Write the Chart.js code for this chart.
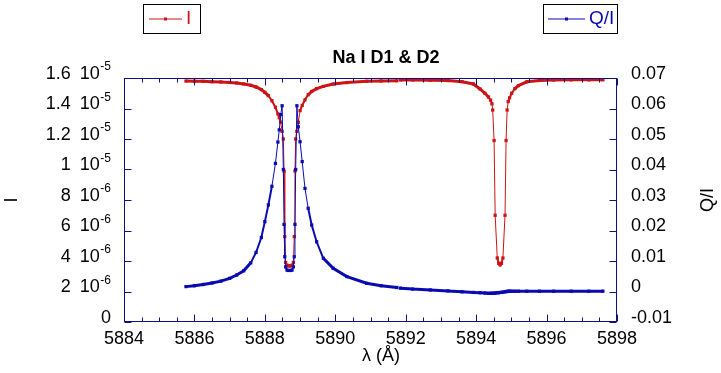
<!DOCTYPE html>
<html><head><meta charset="utf-8">
<script src="https://cdn.jsdelivr.net/npm/chart.js@4.4.1/dist/chart.umd.min.js"></script>
<style>html,body{margin:0;padding:0;background:#fff}canvas{display:block}</style>
</head><body>
<canvas id="c" width="721" height="373"></canvas>
<script>
// ---- data ----
const wavelengths = [
 5885.76,5886.0,5886.25,5886.5,5886.75,5887.0,5887.2,5887.4,5887.6,5887.75,5887.9,5888.0,5888.1,5888.2,5888.3,5888.37,5888.41,
 5888.45,5888.49,5888.525,5888.545,5888.565,5888.59,5888.63,5888.67,5888.73,5888.77,5888.81,5888.835,5888.855,5888.875,5888.91,5888.95,
 5889.0,5889.06,5889.14,5889.23,5889.33,5889.47,5889.66,5889.94,5890.33,5890.89,5891.3,5891.75,
 5891.8,
 5891.85,5892.2,5892.7,5893.2,5893.6,5893.92,5894.11,5894.25,5894.35,5894.41,5894.45,5894.47,5894.51,5894.54,5894.6,5894.64,5894.68,
 5894.72,5894.76,5894.82,5894.85,5894.88,5894.91,5894.95,5895.01,5895.1,5895.2,5895.44,5895.8,5896.2,5896.7,5897.2,5897.6
];
const intensityI = [
 1.580e-5,1.579e-5,1.578e-5,1.576e-5,1.574e-5,1.571e-5,1.567e-5,1.561e-5,1.552e-5,1.541e-5,1.524e-5,1.506e-5,1.484e-5,1.451e-5,1.408e-5,1.365e-5,1.34e-5,
 1.31e-5,1.25e-5,1.20e-5,9.9e-6,5.6e-6,3.9e-6,3.72e-6,3.68e-6,3.68e-6,3.72e-6,3.9e-6,5.6e-6,9.9e-6,1.20e-5,1.25e-5,1.31e-5,
 1.386e-5,1.42e-5,1.457e-5,1.49e-5,1.512e-5,1.530e-5,1.545e-5,1.560e-5,1.570e-5,1.578e-5,1.581e-5,1.582e-5,
 null,
 1.587e-5,1.587e-5,1.586e-5,1.583e-5,1.576e-5,1.561e-5,1.528e-5,1.50e-5,1.475e-5,1.455e-5,1.43e-5,1.39e-5,1.19e-5,7.0e-6,4.2e-6,3.85e-6,3.75e-6,
 3.85e-6,4.2e-6,7.0e-6,1.19e-5,1.39e-5,1.445e-5,1.47e-5,1.50e-5,1.53e-5,1.55e-5,1.575e-5,1.584e-5,1.587e-5,1.588e-5,1.588e-5,1.588e-5
];
const polarizationQI = [
 0.0016,0.0019,0.0023,0.0028,0.0034,0.0043,0.0054,0.0068,0.0094,0.0128,0.0177,0.0229,0.0284,0.0345,0.0420,0.0490,0.0530,
 0.058,0.0609,0.040,0.022,0.0114,0.0081,0.0070,0.0069,0.0069,0.0070,0.0081,0.0114,0.022,0.040,0.0609,0.054,
 0.0491,0.0426,0.0338,0.0273,0.0218,0.0163,0.0109,0.0076,0.0049,0.0027,0.0019,0.0013,
 null,
 0.0011,0.0008,0.0005,0.0002,-0.0001,-0.0003,-0.0004,-0.0005,-0.0006,-0.0006,-0.0006,-0.0006,-0.0006,-0.0005,-0.0004,-0.0004,-0.0003,
 -0.0003,-0.0002,-0.0001,0.0,0.0,0.0001,0.0001,0.0001,0.0001,0.0001,0.0001,0.0001,0.0001,0.0001,0.0001,0.0001
];
const xTickValues = [5884,5886,5888,5890,5892,5894,5896,5898];
const leftTickValues = [0,2e-6,4e-6,6e-6,8e-6,1e-5,1.2e-5,1.4e-5,1.6e-5];
const leftTickMantissa = ['0','2','4','6','8','1','1.2','1.4','1.6'];
const leftTickExponent = ['','-6','-6','-6','-6','-5','-5','-5','-5'];
const rightTickValues = [-0.01,0,0.01,0.02,0.03,0.04,0.05,0.06,0.07];
const rightTickLabels = ['-0.01','0','0.01','0.02','0.03','0.04','0.05','0.06','0.07'];
const chartTitle = 'Na I D1 & D2';
const xTitle = 'λ (Å)';
const leftTitle = 'I';
const rightTitle = 'Q/I';
const seriesNames = ['I','Q/I'];

// ---- styles ----
const RED = '#cc1414', BLUE = '#0a0ab0', FRAME = '#10107a';
const FONT = '"Liberation Sans", Arial, Helvetica, sans-serif';

function thickSeg(ctx){
  const dx = Math.abs(ctx.p1.x - ctx.p0.x), dy = Math.abs(ctx.p1.y - ctx.p0.y);
  if (dx <= 0) return 1;
  const s = dy / dx;
  return s < 1.3 ? 3 : (s < 6 ? 2 : 1);
}

const deco = {
  id: 'deco',
  afterDraw(chart){
    const c = chart.ctx, a = chart.chartArea;
    const sx = chart.scales.x, sy = chart.scales.y, sy1 = chart.scales.y1;
    c.save();
    c.strokeStyle = FRAME; c.lineWidth = 1;
    const L = Math.round(a.left)+0.5, R = Math.round(a.right)-0.5, T = Math.round(a.top)+0.5, B = Math.round(a.bottom)-0.5;
    c.strokeRect(L, T, R-L, B-T);
    c.beginPath();
    for (let v = 5884; v <= 5898.001; v += 0.5){
      const px = Math.round(sx.getPixelForValue(v)) + 0.5;
      const len = (Math.abs(v % 2) < 1e-6) ? 7 : 4;
      c.moveTo(px, B); c.lineTo(px, B-len);
      c.moveTo(px, T); c.lineTo(px, T+len);
    }
    leftTickValues.forEach(v => { const py = Math.round(sy.getPixelForValue(v))+0.5; c.moveTo(L,py); c.lineTo(L+7,py); });
    rightTickValues.forEach(v => { const py = Math.round(sy1.getPixelForValue(v))+0.5; c.moveTo(R,py); c.lineTo(R-7,py); });
    c.stroke();
    c.fillStyle = '#000'; c.font = '18px ' + FONT; c.textAlign = 'center'; c.textBaseline = 'top';
    xTickValues.forEach(v => c.fillText(String(v), sx.getPixelForValue(v), a.bottom + 8));
    c.textBaseline = 'middle';
    leftTickValues.forEach((v, i) => {
      const py = sy.getPixelForValue(v) - 4;
      let xr = 111;
      c.textAlign = 'right';
      if (leftTickExponent[i]){
        c.font = '12px ' + FONT;
        c.fillText(leftTickExponent[i], xr, py - 7);
        xr -= c.measureText(leftTickExponent[i]).width + 0.5;
        c.font = '18px ' + FONT;
        c.fillText('10', xr, py);
        xr -= c.measureText('10').width + 9;
      }
      c.font = '18px ' + FONT;
      c.fillText(leftTickMantissa[i], xr, py);
    });
    c.textAlign = 'left'; c.font = '18px ' + FONT;
    rightTickValues.forEach((v, i) => c.fillText(rightTickLabels[i], 631, sy1.getPixelForValue(v) - 4));
    c.font = 'bold 18px ' + FONT; c.textAlign = 'center'; c.textBaseline = 'middle';
    c.fillText(chartTitle, 386, 58);
    c.font = '18px ' + FONT;
    c.fillText(xTitle, 381, 356);
    c.save(); c.translate(12, 200); c.rotate(-Math.PI/2); c.fillText(leftTitle, 0, 0); c.restore();
    c.save(); c.translate(708, 200); c.rotate(-Math.PI/2); c.fillText(rightTitle, 0, 0); c.restore();
    function legendBox(x0, y0, w, h, col, name, lx0, lx1){
      c.strokeStyle = '#000'; c.lineWidth = 1;
      c.strokeRect(x0+0.5, y0+0.5, w, h);
      const ym = y0 + h/2 + 0.5;
      c.strokeStyle = col; c.beginPath(); c.moveTo(lx0, ym); c.lineTo(lx1, ym); c.stroke();
      c.fillStyle = col; c.fillRect((lx0+lx1)/2 - 1.5, ym - 1.5, 3, 3);
      c.font = '19px ' + FONT; c.textAlign = 'left'; c.textBaseline = 'middle';
      c.fillText(name, lx1 + 4, ym);
    }
    legendBox(143, 4, 57, 29, RED, seriesNames[0], 149, 182);
    legendBox(543, 4, 74, 29, BLUE, seriesNames[1], 548, 585);
    c.restore();
  }
};

const mk = vals => wavelengths.map((w, i) => ({x: w, y: vals[i]}));

new Chart(document.getElementById('c'), {
  type: 'line',
  data: { datasets: [
    { label: seriesNames[0], data: mk(intensityI), yAxisID: 'y', borderColor: RED, backgroundColor: RED,
      borderWidth: 1, pointStyle: 'rect', pointRadius: 2.3, pointBorderWidth: 0, pointBackgroundColor: RED,
      tension: 0, spanGaps: false, order: 2, segment: { borderWidth: thickSeg } },
    { label: seriesNames[1], data: mk(polarizationQI), yAxisID: 'y1', borderColor: BLUE, backgroundColor: BLUE,
      borderWidth: 1, pointStyle: 'rect', pointRadius: 2.3, pointBorderWidth: 0, pointBackgroundColor: BLUE,
      tension: 0, spanGaps: false, order: 1, segment: { borderWidth: thickSeg } }
  ]},
  options: {
    responsive: false, animation: false, events: [],
    layout: { padding: { left: 124, right: 104, top: 78, bottom: 51 } },
    scales: {
      x: { type: 'linear', min: 5884, max: 5898, display: false },
      y: { type: 'linear', position: 'left', min: 0, max: 1.6e-5, display: false },
      y1: { type: 'linear', position: 'right', min: -0.01, max: 0.07, display: false }
    },
    plugins: { legend: { display: false }, tooltip: { enabled: false }, title: { display: false } }
  },
  plugins: [deco]
});
</script>
</body></html>
